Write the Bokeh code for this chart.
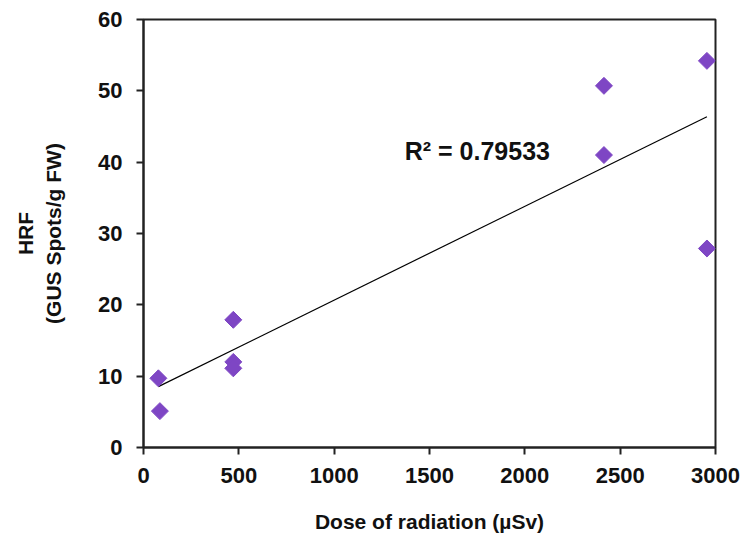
import numpy as np
from bokeh.plotting import figure
from bokeh.models import Range1d, Label, FixedTicker
from bokeh.embed import file_html
from bokeh.resources import INLINE

dose = [78, 86, 471, 471, 471, 2415, 2415, 2955, 2955]
hrf = [9.7, 5.1, 17.9, 12.0, 11.1, 50.7, 41.0, 54.2, 27.9]
x_ticks = [0, 500, 1000, 1500, 2000, 2500, 3000]
y_ticks = [0, 10, 20, 30, 40, 50, 60]
r2_text = "R² = 0.79533"

slope, intercept = np.polyfit(dose, hrf, 1)
line_x = [min(dose), max(dose)]
line_y = [slope * v + intercept for v in line_x]

p = figure(width=745, height=543, output_backend="svg", toolbar_location=None,
           x_range=Range1d(0, 3000), y_range=Range1d(0, 60),
           min_border_left=143, min_border_right=30, min_border_top=19, min_border_bottom=96)
p.grid.visible = False
p.outline_line_color = "#222222"
p.outline_line_width = 2

p.line(line_x, line_y, line_color="black", line_width=1.2)
p.scatter(dose, hrf, marker="square", angle=np.pi / 4, size=12,
          fill_color="#7E46C4", line_color="#7E46C4")

for ax in (p.xaxis[0], p.yaxis[0]):
    ax.major_label_text_font = "Liberation Sans"
    ax.major_label_text_font_style = "bold"
    ax.major_label_text_font_size = "22px"
    ax.major_label_text_color = "#111111"
    ax.axis_label_text_font = "Liberation Sans"
    ax.axis_label_text_font_style = "bold"
    ax.axis_label_text_font_size = "21px"
    ax.axis_label_text_color = "#111111"
    ax.axis_line_width = 2
    ax.axis_line_color = "#222222"
    ax.major_tick_line_width = 2
    ax.major_tick_line_color = "#222222"
    ax.major_tick_in = 0
    ax.major_tick_out = 7
    ax.minor_tick_line_color = None

p.xaxis.ticker = FixedTicker(ticks=x_ticks)
p.yaxis.ticker = FixedTicker(ticks=y_ticks)
p.xaxis.major_label_standoff = 13
p.yaxis.major_label_standoff = 14
p.xaxis.axis_label = "Dose of radiation (µSv)"
p.yaxis.axis_label = "HRF\n(GUS Spots/g FW)"
p.xaxis.axis_label_standoff = 24
p.yaxis.axis_label_standoff = 30

p.add_layout(Label(x=1370, y=41.5, text=r2_text, text_font="Liberation Sans",
                   text_font_style="bold", text_font_size="25px", text_color="#111111",
                   text_baseline="middle"))

open("out.html", "w").write(file_html(p, INLINE))
